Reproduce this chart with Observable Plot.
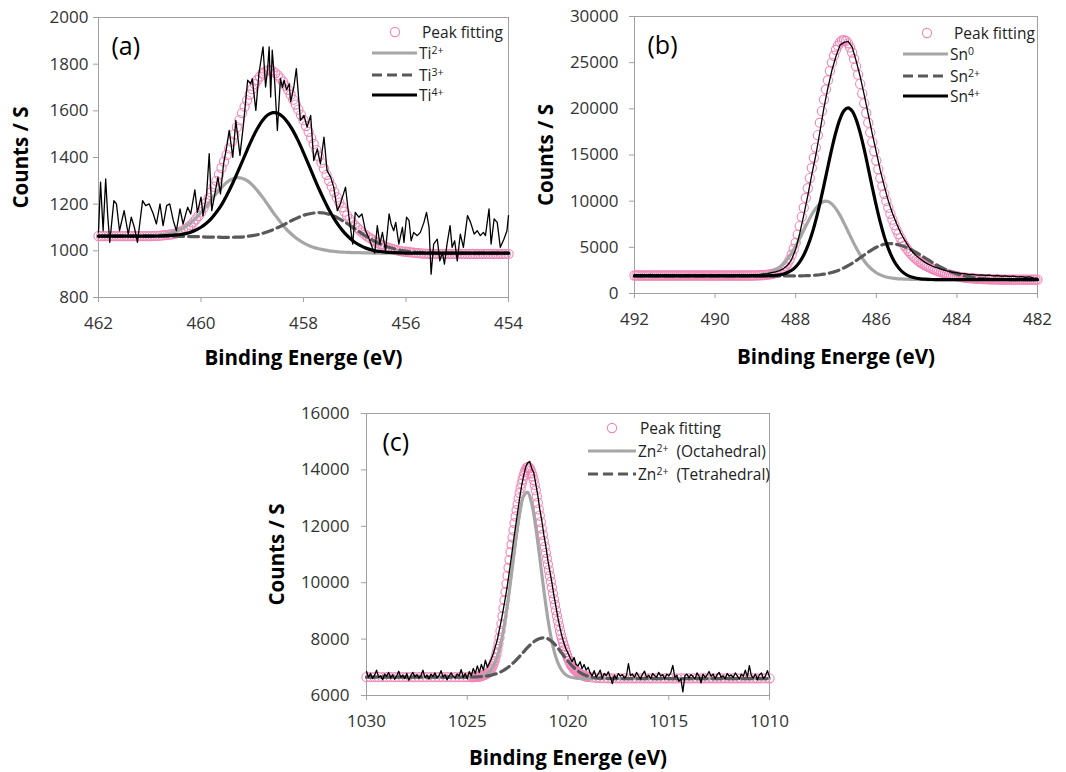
<!DOCTYPE html>
<html><head><meta charset="utf-8">
<script src="https://cdn.jsdelivr.net/npm/d3@7"></script>
<script src="https://cdn.jsdelivr.net/npm/@observablehq/plot@0.6"></script>
<style>
html,body{margin:0;padding:0;background:#fff;}
#wrap{position:relative;width:1066px;height:772px;overflow:hidden;background:#fff;}
</style></head>
<body><div id="wrap"></div>
<script>
const FONT = '"Open Sans","Noto Sans",sans-serif';
const PINK = "#f285b8", LIGHT = "#a6a6a6", DARK = "#595959", BLACK = "#000000", FRAME = "#a0a0a0";

// ---------------- Panel (a): Ti ----------------
const aTicksX = [462, 460, 458, 456, 454];
const aTicksY = [800, 1000, 1200, 1400, 1600, 1800, 2000];
// components, 462.0 -> 454.0 every 0.1 eV
const aTi2 = [1063,1063,1063,1063,1063,1063,1063,1063,1063,
1064,1065,1066,1068,1071,1076,1083,1091,1104,1120,
1140,1164,1190,1218,1246,1271,1293,1307,1314,1311,
1301,1283,1258,1230,1199,1167,1138,1109,1085,1065,
1048,1034,1023,1014,1009,1004,1000,998,995,994,
993,992,992,991,991,
990,990,990,990,990,990,990,990,990,990,990,990,990,990,990,990,990,990,990,990,990,990,990,990,990,990,990];
const aTi3 = [1063,1063,1063,1063,1063,1063,1063,1063,1063,1063,1063,1063,1063,1063,1063,1063,
1062,1062,1061,1061,1060,1059,
1059,1059,1058,1058,1058,1059,1059,1062,1065,1069,
1075,1082,1090,1100,1110,1122,1133,1143,1152,1158,
1162,1164,1162,1156,1148,1137,1124,1110,1095,1080,
1065,1052,1039,1029,1020,1013,1007,1002,999,996,
994,993,992,991,
990,990,990,990,990,990,990,990,990,990,990,990,990,990,990];
const aTi4 = [1063,1063,1063,1063,1063,1063,1063,1063,1063,
1063,1063,1063,1064,1065,1066,1068,1070,1074,1080,
1089,1101,1117,1138,1165,1197,1237,1281,1330,1380,
1432,1481,1524,1559,1582,1592,1590,1574,1548,1513,
1470,1421,1369,1317,1266,1219,1175,1137,1104,1077,
1055,1037,1024,1013,1006,1000,997,994,993,992,
991,
990,990,990,990,990,990,990,990,990,990,990,990,990,990,990,990,990,990,990,990,990];
// peak fitting, 462.00 -> 454.00 every 0.05 eV
const aFit = [1063,1063,1063,1063,1063,1063,1063,1063,1063,1063,1063,1063,1063,1063,1063,1063,1063,1063,1063,1063,1063,
1063,1064,1064,1065,1066,1067,1068,1070,1072,1074,
1077,1082,1088,1094,1101,1110,1122,1135,1149,1165,
1184,1205,1227,1250,1275,1300,1327,1355,1382,1410,
1439,1468,1499,1530,1560,1590,1618,1645,1670,1693,
1714,1732,1747,1760,1768,1773,1773,1770,1762,1752,
1739,1725,1708,1690,1669,1648,1627,1605,1583,1560,
1535,1510,1484,1458,1432,1405,1378,1352,1326,1300,
1276,1252,1229,1207,1187,1168,1151,1136,1122,1110,
1099,1088,1078,1069,1061,1054,1047,1040,1034,1028,
1023,1018,1014,1010,1007,1004,1001,999,997,996,
995,993,992,991,990,989,988,988,
987,987,987,987,987,987,987,987,987,987,987,987,987,987,987,987,
987,987,987,987,987,987,987,987,987,987,987,987,987,987,987,987];
// measured counts [eV, counts]
const aRaw = [[462.00,1080],[461.96,1294],[461.91,1086],[461.86,1308],[461.82,1150],[461.78,1036],[461.70,1215],[461.65,1201],[461.59,1086],[461.50,1172],[461.42,1072],[461.36,1144],[461.30,1100],[461.24,1036],[461.14,1215],[461.08,1194],[461.01,1201],[460.93,1158],[460.87,1115],[460.80,1201],[460.74,1108],[460.67,1194],[460.61,1201],[460.54,1129],[460.48,1086],[460.41,1180],[460.35,1115],[460.26,1187],[460.20,1158],[460.12,1261],[460.07,1165],[460.00,1230],[459.96,1151],[459.89,1244],[459.84,1416],[459.79,1172],[459.73,1244],[459.67,1316],[459.62,1244],[459.56,1373],[459.50,1444],[459.45,1516],[459.38,1401],[459.32,1559],[459.24,1409],[459.17,1545],[459.09,1731],[459.03,1716],[459.00,1738],[458.93,1602],[458.87,1759],[458.79,1874],[458.74,1702],[458.70,1780],[458.67,1874],[458.64,1659],[458.61,1860],[458.56,1716],[458.51,1516],[458.45,1738],[458.41,1700],[458.38,1731],[458.33,1690],[458.28,1716],[458.25,1638],[458.19,1700],[458.14,1781],[458.06,1559],[457.99,1580],[457.93,1530],[457.86,1580],[457.80,1387],[457.73,1437],[457.67,1373],[457.60,1487],[457.54,1344],[457.47,1316],[457.41,1273],[457.34,1172],[457.28,1201],[457.18,1273],[457.12,1158],[457.04,1029],[456.99,1165],[456.92,1144],[456.86,1158],[456.79,1086],[456.73,1058],[456.66,1015],[456.61,990],[456.56,1108],[456.51,1029],[456.46,1079],[456.40,1000],[456.33,1158],[456.29,1115],[456.24,1086],[456.20,1122],[456.14,1029],[456.07,1101],[456.04,1036],[455.99,1144],[455.94,1129],[455.90,1043],[455.85,1079],[455.78,1065],[455.72,1079],[455.65,1122],[455.60,1165],[455.55,1101],[455.51,900],[455.46,1029],[455.39,1050],[455.34,957],[455.29,993],[455.25,943],[455.20,1029],[455.14,1108],[455.10,1015],[455.05,1043],[455.00,957],[454.94,1072],[454.88,1015],[454.80,1151],[454.74,1122],[454.67,1072],[454.61,1086],[454.55,1065],[454.49,1079],[454.45,1065],[454.38,1180],[454.34,1029],[454.28,1137],[454.22,1122],[454.16,1015],[454.09,1050],[454.03,1086],[454.00,1151]];

// ---------------- Panel (b): Sn ----------------
const bTicksX = [492, 490, 488, 486, 484, 482];
const bTicksY = [0, 5000, 10000, 15000, 20000, 25000, 30000];
// components, 492.0 -> 482.0 every 0.1 eV
const bSn0 = [1900,1900,1900,1900,1900,1900,1900,1900,1900,1900,1900,1900,1900,1900,1900,1900,1900,1900,1900,1900,1900,1900,1900,1900,1900,
1902,1904,1908,1916,1930,1954,1994,2059,2160,2312,
2531,2834,3239,3757,4395,5141,5976,6859,7740,8554,
9236,9725,9977,9962,9684,9167,8459,7619,6714,5807,
4949,4183,3525,2989,2567,2248,2015,1850,1737,1662,
1612,1579,1557,1542,1532,1525,1518,1514,1510,1507,
1505,1503,1502,1501,
1500,1500,1500,1500,1500,1500,1500,1500,1500,1500,1500,1500,1500,1500,1500,1500,1500,1500,1500,1500,1500,1500];
const bSn2 = [1900,1900,1900,1900,1900,1900,1900,1900,1900,1900,1900,1900,1900,1900,1900,1900,1900,1900,1900,1900,1900,1900,1900,1900,1900,1900,1900,1900,1900,1900,1900,1900,1900,1900,1900,1900,1900,
1901,1903,1904,1907,1912,1921,1935,1955,1987,2030,
2092,2172,2278,2412,2578,2778,3010,3272,3559,3865,
4175,4478,4760,5005,5201,5335,5398,5392,5331,5223,
5071,4880,4659,4413,4150,3880,3608,3343,3091,2855,
2638,2444,2272,2124,1997,1891,1804,1732,1676,1631,
1596,1570,1550,1536,1525,1517,1512,1508,1505,1504,
1502,1502,1501,1501];
const bSn4 = [1900,1900,1900,1900,1900,1900,1900,1900,1900,1900,1900,1900,1900,1900,1900,1900,1900,1900,1900,1900,1900,1900,1900,1900,1900,1900,1900,1900,1900,1900,
1902,1904,1909,1919,1936,1969,2025,2120,2277,2521,
2888,3421,4163,5152,6412,7954,9738,11710,13757,15743,
17513,18911,19803,20098,19765,18836,17403,15598,13580,11502,
9504,7695,6132,4852,3848,3091,2545,2167,1914,1750,
1649,1587,1550,1529,1516,1509,1505,1502,1501,
1500,1500,1500,1500,1500,1500,1500,1500,1500,1500,1500,1500,1500,1500,1500,1500,1500,1500,1500,1500,1500,1500];
// peak fitting, 492.00 -> 482.00 every 0.05 eV
const bFit = [1950,1950,1950,1950,1950,1950,1950,1950,1950,1950,1950,1950,1950,1950,1950,1950,1950,1950,1950,1950,
1950,1950,1950,1950,1950,1950,1950,1950,1950,1950,1950,1950,1950,1950,1950,1950,1950,1950,1950,1950,
1950,1950,1950,1950,1950,1950,1950,1950,1950,1950,1950,1950,1950,1950,1950,1950,1950,1950,1950,1950,
1960,1967,1975,1986,2000,2018,2040,2072,2110,2160,
2220,2300,2400,2530,2700,2940,3240,3680,4200,4820,
5500,6380,7300,8300,9300,10350,11400,12500,13600,14700,
15800,17150,18500,19750,21000,22100,23100,24100,25000,25750,
26400,26850,27200,27400,27450,27350,27100,26650,26100,25400,
24600,23700,22700,21650,20600,19550,18500,17450,16400,15400,
14400,13450,12500,11630,10800,10030,9300,8630,8000,7430,
6900,6430,6000,5580,5200,4880,4600,4340,4100,3890,
3700,3520,3350,3210,3080,2965,2860,2750,2650,2560,
2480,2400,2320,2250,2180,2120,2060,2000,1950,1905,
1860,1820,1780,1750,1720,1695,1670,1650,1630,1615,
1600,1590,1580,1570,1560,1552,1545,1537,1530,1525,
1520,
1515,1510,1507,1505,1503,1500,1500,1500,1500,1500,1500,1500,1500,1500,1500,1500,1500,1500,1500,1500];
// measured counts, 492.0 -> 482.0 every 0.1 eV
const bRaw = [2080,1960,2040,1990,2060,1940,2010,1980,2050,1970,2020,1990,1950,2030,1980,2000,1960,2040,1990,2010,1970,2030,2000,1960,2020,1990,2040,2000,1980,2030,2020,
2050,2120,2150,2250,2350,2480,2700,3050,3700,4800,
6500,8500,10600,12900,15000,17500,20100,22300,24200,25700,
26900,27200,27300,26700,25200,23500,21500,19400,17300,15300,
13300,11600,10000,8700,7600,6600,5800,5100,4500,4050,
3700,3400,3150,2950,2800,2650,2500,2400,2300,2250,
2150,2150,2050,2080,1980,2020,1950,1990,1900,1950,
1870,1920,1840,1880,1800,1830,1760,1790,1700,1650];

// ---------------- Panel (c): Zn ----------------
const cTicksX = [1030, 1025, 1020, 1015, 1010];
const cTicksY = [6000, 8000, 10000, 12000, 14000, 16000];
// components, 1030.0 -> 1010.0 every 0.2 eV
const cOct = [6650,6650,6650,6650,6650,6650,6650,6650,6650,6650,6650,6650,6650,6650,6650,6650,6650,6650,6650,6650,6650,6650,6650,6650,6650,6650,
6653,6658,6672,6706,6781,6931,7204,7656,8334,9246,
10336,11468,12447,13075,13204,12804,11969,10879,9741,8723,
7921,7358,7000,6794,6687,6636,6614,6605,6602,
6600,6600,6600,6600,6600,6600,6600,6600,6600,6600,6600,6600,6600,6600,6600,6600,6600,6600,6600,6600,6600,6600,6600,
6600,6600,6600,6600,6600,6600,6600,6600,6600,6600,6600,6600,6600,6600,6600,6600,6600,6600,6600,6600,6600,6600,6600];
const cTet = [6650,6650,6650,6650,6650,6650,6650,6650,6650,6650,6650,6650,6650,6650,6650,6650,6650,6650,6650,6650,6650,6650,6650,6650,
6651,6652,6655,6658,6665,6676,6694,6721,6760,6816,
6889,6984,7102,7239,7390,7549,7705,7843,7953,8024,
8047,8011,7914,7767,7589,7400,7217,7055,6919,6814,
6737,6684,6649,6627,6614,6607,6603,6602,6601,
6600,6600,6600,6600,6600,6600,6600,6600,6600,6600,6600,6600,6600,6600,6600,6600,6600,6600,6600,
6600,6600,6600,6600,6600,6600,6600,6600,6600,6600,6600,6600,6600,6600,6600,6600,6600,6600,6600];
// peak fitting: 1030.0 -> 1024.8 (0.2 eV), 1024.75 -> 1019.00 (0.05 eV), 1018.8 -> 1010.0 (0.2 eV)
const cFitLeft = [6650,6650,6650,6650,6650,6650,6650,6650,6650,6650,6650,6650,6650,6650,6650,6650,6650,6650,6650,6650,6650,6650,6650,6650,6650,6650,6652];
const cFitPeak = [6653,6655,6657,6658,6661,6665,6670,6675,6683,6693,6705,6720,6735,6752,6770,6790,
6820,6855,6900,6960,7030,7120,7220,7330,7480,7650,7840,8050,8290,8540,8810,9100,9380,9670,9960,10250,
10530,10810,11080,11350,11610,11860,12110,12350,12570,12780,12990,13180,13350,13510,13660,13800,13910,14000,14070,14100,
14100,14060,13980,13880,13770,13640,13470,13280,13060,12830,12600,12380,12150,11920,11700,11480,11270,11060,10850,10650,
10445,10240,10035,9830,9625,9420,9220,9020,8830,8650,8470,8300,8150,8010,7880,7760,7640,7530,7420,7320,
7235,7160,7090,7030,6980,6940,6905,6870,6840,6810,6785,6760,6742,6725,6712,6700,6689,6678,6669,6660];
const cFitRight = [6640,6628,6620,6615,6612,6610,6610,6610,6610,6610,6610,6610,6610,6610,6610,6610,6610,6610,6610,6610,6610,6610,6610,
6610,6610,6610,6610,6610,6610,6610,6610,6610,6610,6610,6610,6610,6610,6610,6610,6610,6610,6610,6610,6610,6610];
// measured counts, 1030.0 -> 1010.0 every 0.1 eV
const cRaw = [6850,6650,6780,6600,6720,6900,6640,6700,6560,6760,
6680,6820,6620,6740,6580,6700,6860,6650,6720,6600,
6780,6540,6700,6820,6660,6740,6620,6700,6900,6640,
6720,6580,6760,6680,6800,6620,6700,6880,6650,6740,
6560,6700,6800,6680,6620,6760,6700,6920,6640,6780,
6600,
6850,6700,6960,6780,7050,6820,7100,6900,7250,7000,
7150,7300,7500,7750,8000,8350,8700,9100,9500,9950,
10450,10950,11500,12000,12500,13000,13450,13800,14100,14250,
14300,14050,13900,13500,13100,12600,12200,11700,11300,10800,
10400,10000,9550,9150,8750,8400,8100,7850,7650,7500,
7350,7200,7350,7100,7050,7200,6950,7100,6900,7000,
6800,6700,6880,6650,6760,6900,6620,6780,6700,6840,
6650,6420,6720,6600,6780,6690,6740,6620,6700,7130,
6700,6760,6640,6820,6700,6580,6760,6860,6640,6720,
6600,6780,6700,6650,6820,6690,6740,6580,6760,6700,
6800,7070,6650,6720,6500,6600,6130,6700,6760,6620,
6740,6680,6580,6800,6700,6450,6760,6640,6720,6850,
6680,6760,6600,6740,6820,6650,6700,6580,6780,6690,
6720,6640,6800,6700,6580,6760,6680,6900,6650,7060,
6700,6620,6760,6560,6740,6800,6600,6700,6880,6650];

// ---------------- helpers ----------------
function rows(start, step, values) {
  return values.map((v, i) => ({E: +(start - i * step).toFixed(2), v}));
}
function pairs(list) { return list.map(([E, v]) => ({E, v})); }

const wrap = document.getElementById("wrap");

function panel(cfg) {
  const svg = Plot.plot({
    width: cfg.width, height: cfg.height,
    marginLeft: cfg.ml, marginRight: cfg.mr, marginTop: cfg.mt, marginBottom: cfg.mb,
    style: {fontFamily: FONT, fontSize: "17px", background: "transparent", color: "#333"},
    x: {domain: cfg.xDomain},
    y: {domain: cfg.yDomain},
    marks: [
      Plot.frame({stroke: FRAME}),
      Plot.axisX({ticks: cfg.xTicks, tickSize: 5, tickPadding: 14, tickFormat: d => `${d}`, stroke: FRAME, fill: "#333", label: null}),
      Plot.axisY({anchor: "left", ticks: cfg.yTicks, tickSize: 5, tickPadding: cfg.yPad, tickFormat: d => `${d}`, stroke: FRAME, fill: "#333", label: null}),
      Plot.dot(cfg.fit, {x: "E", y: "v", r: 4.6, stroke: PINK, strokeWidth: 1.1}),
      ...cfg.comps.map(c => Plot.line(c.data, {x: "E", y: "v", stroke: c.color, strokeWidth: 3.2, strokeDasharray: c.dash, curve: "catmull-rom"})),
      Plot.line(cfg.raw, {x: "E", y: "v", stroke: BLACK, strokeWidth: 1.3}),
      Plot.text([cfg.xTitle], {text: d => d, frameAnchor: "bottom", dy: cfg.xTitleDy, lineAnchor: "middle", fontWeight: "bold", fontSize: 20.5, fill: "#000"}),
      Plot.text([cfg.yTitle], {text: d => d, frameAnchor: "left", dx: -cfg.yTitleDx, rotate: -90, lineAnchor: "middle", textAnchor: "middle", fontWeight: "bold", fontSize: 20.5, fill: "#000"}),
      Plot.text([cfg.tag], {text: d => d, frameAnchor: "top-left", dx: cfg.tagDx, dy: cfg.tagDy, textAnchor: "start", lineAnchor: "middle", fontSize: 25, fill: "#000"})
    ]
  });
  svg.style.position = "absolute";
  svg.style.left = cfg.left + "px";
  svg.style.top = cfg.top + "px";
  wrap.appendChild(svg);
}

panel({
  left: 0, top: 0, width: 530, height: 380, ml: 98, mr: 22, mt: 17, mb: 83,
  xDomain: [462, 454], yDomain: [800, 2000], xTicks: aTicksX, yTicks: aTicksY, yPad: 5,
  fit: rows(462, 0.05, aFit),
  comps: [
    {data: rows(462, 0.1, aTi2), color: LIGHT},
    {data: rows(462, 0.1, aTi3), color: DARK, dash: "10,5"},
    {data: rows(462, 0.1, aTi4), color: BLACK}
  ],
  raw: pairs(aRaw),
  xTitle: "Binding Energe (eV)", xTitleDy: 61, yTitle: "Counts / S", yTitleDx: 77,
  tag: "(a)", tagDx: 13, tagDy: 29
});

panel({
  left: 530, top: 0, width: 536, height: 380, ml: 104, mr: 29, mt: 16, mb: 87,
  xDomain: [492, 482], yDomain: [0, 30000], xTicks: bTicksX, yTicks: bTicksY, yPad: 11,
  fit: rows(492, 0.05, bFit),
  comps: [
    {data: rows(492, 0.1, bSn0), color: LIGHT},
    {data: rows(492, 0.1, bSn2), color: DARK, dash: "10,5"},
    {data: rows(492, 0.1, bSn4), color: BLACK}
  ],
  raw: rows(492, 0.1, bRaw),
  xTitle: "Binding Energe (eV)", xTitleDy: 64, yTitle: "Counts / S", yTitleDx: 88,
  tag: "(b)", tagDx: 13, tagDy: 29
});

panel({
  left: 260, top: 390, width: 540, height: 382, ml: 106, mr: 31, mt: 23, mb: 77,
  xDomain: [1030, 1010], yDomain: [6000, 16000], xTicks: cTicksX, yTicks: cTicksY, yPad: 12,
  fit: [...rows(1030, 0.2, cFitLeft), ...rows(1024.75, 0.05, cFitPeak), ...rows(1018.8, 0.2, cFitRight)],
  comps: [
    {data: rows(1030, 0.2, cOct), color: LIGHT},
    {data: rows(1030, 0.2, cTet), color: DARK, dash: "10,5"}
  ],
  raw: rows(1030, 0.1, cRaw),
  xTitle: "Binding Energe (eV)", xTitleDy: 63, yTitle: "Counts / S", yTitleDx: 89,
  tag: "(c)", tagDx: 16, tagDy: 29
});

// ---------------- legends ----------------
const ov = d3.select("#wrap").append("svg")
  .attr("width", 1066).attr("height", 772)
  .style("position", "absolute").style("left", "0px").style("top", "0px")
  .style("font-family", FONT);

function legend(spec) {
  const {sx0, sx1, dotX, textX, fitTextX, rowsY, entries} = spec;
  ov.append("circle").attr("cx", dotX).attr("cy", rowsY[0]).attr("r", 4.6)
    .attr("fill", "none").attr("stroke", PINK).attr("stroke-width", 1.1);
  ov.append("text").attr("x", fitTextX).attr("y", rowsY[0]).attr("dy", "0.36em")
    .attr("font-size", 15.5).attr("fill", "#222").text("Peak fitting");
  entries.forEach((e, i) => {
    const y = rowsY[i + 1];
    ov.append("line").attr("x1", sx0).attr("x2", sx1).attr("y1", y).attr("y2", y)
      .attr("stroke", e.color).attr("stroke-width", 3.2).attr("stroke-dasharray", e.dash || null);
    const t = ov.append("text").attr("x", textX).attr("y", y).attr("dy", "0.36em")
      .attr("font-size", 15.5).attr("fill", "#222");
    t.append("tspan").text(e.base);
    t.append("tspan").attr("dy", -5).attr("font-size", 10.5).text(e.sup);
    if (e.tail) t.append("tspan").attr("dy", 5).attr("font-size", 15.5).text(e.tail);
  });
}

legend({sx0: 372, sx1: 417, dotX: 395, textX: 419, fitTextX: 422, rowsY: [32, 53, 75, 95],
  entries: [
    {color: LIGHT, base: "Ti", sup: "2+"},
    {color: DARK, dash: "10,5", base: "Ti", sup: "3+"},
    {color: BLACK, base: "Ti", sup: "4+"}
  ]});
legend({sx0: 903, sx1: 948, dotX: 927, textX: 950, fitTextX: 954, rowsY: [33, 54, 76, 96],
  entries: [
    {color: LIGHT, base: "Sn", sup: "0"},
    {color: DARK, dash: "10,5", base: "Sn", sup: "2+"},
    {color: BLACK, base: "Sn", sup: "4+"}
  ]});
legend({sx0: 588, sx1: 636, dotX: 612, textX: 638, fitTextX: 640, rowsY: [428, 451, 474],
  entries: [
    {color: LIGHT, base: "Zn", sup: "2+", tail: "\u00a0\u00a0(Octahedral)"},
    {color: DARK, dash: "10,5", base: "Zn", sup: "2+", tail: "\u00a0\u00a0(Tetrahedral)"}
  ]});
</script>
</body></html>
